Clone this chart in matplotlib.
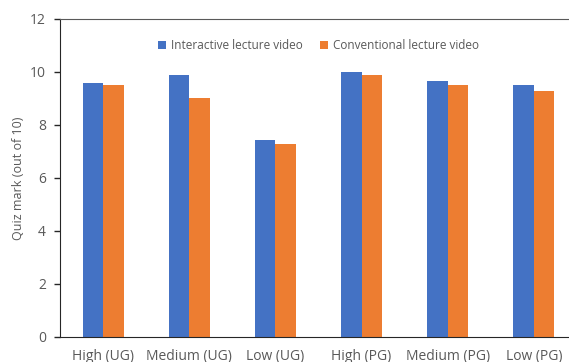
import matplotlib.pyplot as plt
import numpy as np

categories = ["High (UG)", "Medium (UG)", "Low (UG)", "High (PG)", "Medium (PG)", "Low (PG)"]
interactive = [9.6, 9.9, 7.45, 10.0, 9.65, 9.5]
conventional = [9.5, 9.0, 7.3, 9.9, 9.5, 9.3]

plt.rcParams['font.family'] = ['Open Sans', 'DejaVu Sans']
text_color = '#595959'

fig = plt.figure(figsize=(5.69, 3.62), dpi=100)
ax = fig.add_axes([0.1054, 0.0691, 0.9086, 0.8785])

x = np.arange(len(categories))
w = 0.238
ax.bar(x - w / 2, interactive, w, color='#4472C4', label='Interactive lecture video')
ax.bar(x + w / 2, conventional, w, color='#ED7D31', label='Conventional lecture video')

ax.set_xlim(-0.5, 5.5)
ax.set_ylim(0, 12)
ax.set_yticks(range(0, 13, 2))
ax.set_xticks(x)
ax.set_xticklabels(categories)

ax.spines['right'].set_visible(False)
ax.spines['top'].set_color('#595959')
ax.spines['left'].set_color('#262626')
ax.spines['bottom'].set_color('#262626')
ax.tick_params(axis='y', length=4, width=1, colors='#262626', labelcolor=text_color,
               labelsize=10, pad=6)
ax.tick_params(axis='x', length=0, labelcolor=text_color, labelsize=10, pad=9)
ax.set_ylabel('Quiz mark (out of 10)', color=text_color, fontsize=9, labelpad=4)

ax.legend(loc='upper center', bbox_to_anchor=(0.5, 0.97), ncol=2, frameon=False,
          fontsize=8.5, labelcolor=text_color, handlelength=0.7, handleheight=0.7,
          handletextpad=0.4, columnspacing=1.5)

fig.savefig('out.png', dpi=100)
